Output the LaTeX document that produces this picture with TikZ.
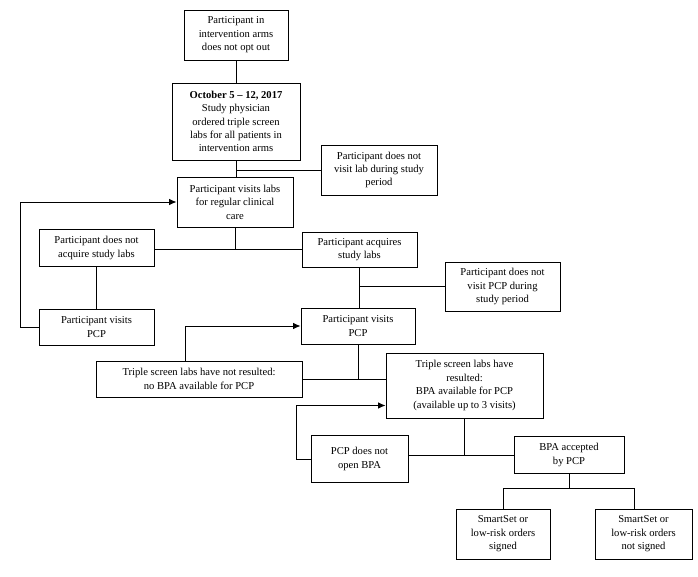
\documentclass[tikz,border=0pt]{standalone}
\usepackage{fontspec}
\setmainfont{Liberation Serif}
\usetikzlibrary{arrows.meta}

\begin{document}
\begin{tikzpicture}[x=1pt, y=-1pt, line width=0.9pt, >={Latex[length=7.5pt,width=6.5pt]},
  box/.style={draw, align=center, inner sep=1pt, font=\fontsize{10.6}{13.4}\selectfont}]
\useasboundingbox (0,0) rectangle (698,577);
% boxes
\node[box, minimum width=104pt, minimum height=50pt] (optin) at (236,35) {Participant in\\intervention arms\\does not opt out};
\node[box, minimum width=128pt, minimum height=77pt] (order) at (236,121.5) {\textbf{October 5 -- 12, 2017}\\Study physician\\ordered triple screen\\labs for all patients in\\intervention arms};
\node[box, minimum width=116pt, minimum height=50pt] (nolab) at (379,170) {Participant does not\\visit lab during study\\period};
\node[box, minimum width=116pt, minimum height=50pt] (labs) at (235,202) {Participant visits labs\\for regular clinical\\care};
\node[box, minimum width=115pt, minimum height=37pt] (noacq) at (96.5,248) {Participant does not\\acquire study labs};
\node[box, minimum width=115pt, minimum height=35pt] (acq) at (359.5,249.5) {Participant acquires\\study labs};
\node[box, minimum width=115pt, minimum height=36pt] (pcpA) at (96.5,327) {Participant visits\\PCP};
\node[box, minimum width=115pt, minimum height=49pt] (nopcp) at (502.5,286.5) {Participant does not\\visit PCP during\\study period};
\node[box, minimum width=114pt, minimum height=36pt] (pcpB) at (358,326) {Participant visits\\PCP};
\node[box, minimum width=206pt, minimum height=36pt] (notres) at (199,379) {Triple screen labs have not resulted:\\no BPA available for PCP};
\node[box, minimum width=157pt, minimum height=65pt] (res) at (464.5,385.5) {Triple screen labs have\\resulted:\\BPA available for PCP\\(available up to 3 visits)};
\node[box, minimum width=97pt, minimum height=47pt] (noopen) at (359.5,459) {PCP does not\\open BPA};
\node[box, minimum width=110pt, minimum height=37pt] (accept) at (569,455) {BPA accepted\\by PCP};
\node[box, minimum width=94pt, minimum height=50pt] (signed) at (503,534) {SmartSet or\\low-risk orders\\signed};
\node[box, minimum width=97pt, minimum height=50pt] (unsigned) at (643.5,534) {SmartSet or\\low-risk orders\\not signed};
% connectors
\draw (optin.south) -- (optin.south |- order.north);
\draw (order.south) -- (order.south |- labs.north);
\draw (order.south |- nolab.west) -- (nolab.west);
\draw (labs.south) -- (labs.south |- acq.west);
\draw (noacq.east |- acq.west) -- (acq.west);
\draw (noacq.south) -- (pcpA.north);
\draw[->] (pcpA.west) -- ++(-18,0) |- (labs.west);
\draw (acq.south) -- (acq.south |- pcpB.north);
\draw (acq.south |- nopcp.west) -- (nopcp.west);
\draw (pcpB.south) -- (pcpB.south |- notres.east);
\draw (notres.east) -- (notres.east -| res.west);
\draw[->] ([xshift=-14pt]notres.north) |- (pcpB.west);
\draw (res.south) -- (res.south |- accept.west);
\draw (noopen.east |- accept.west) -- (accept.west);
\draw[->] (noopen.west) -- ++(-14,0) |- ([yshift=-20pt]res.west);
\draw (accept.south) -- ++(0,14) coordinate (fork);
\draw (signed.north) |- (fork) -| ([xshift=-9pt]unsigned.north);
\end{tikzpicture}
\end{document}
